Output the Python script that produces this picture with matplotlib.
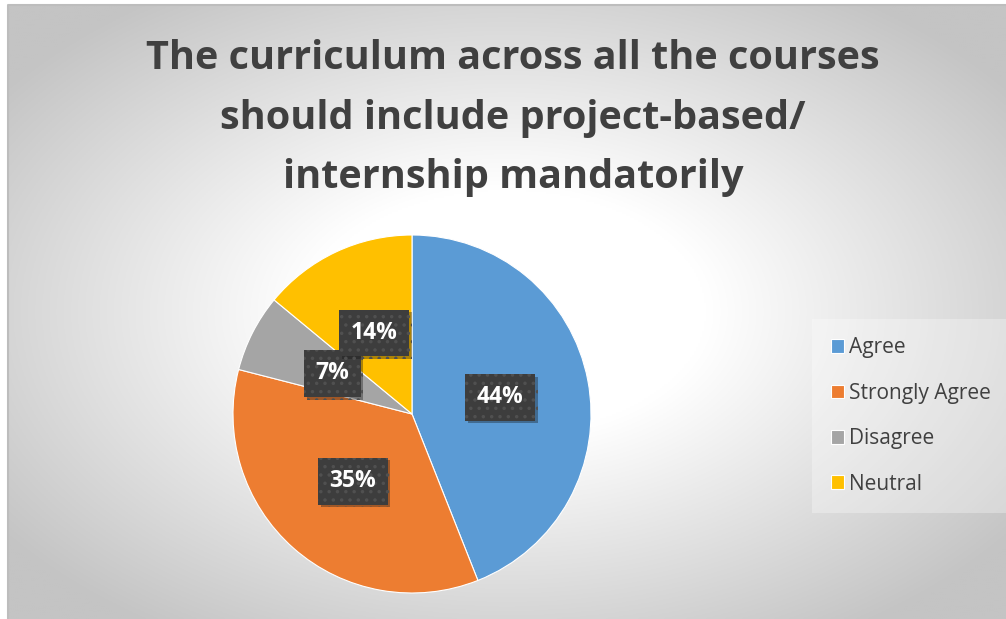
import matplotlib.pyplot as plt
import matplotlib.patheffects as pe
import numpy as np

categories = ["Agree", "Strongly Agree", "Disagree", "Neutral"]
shares = [44, 35, 7, 14]
colors = ["#5B9BD5", "#ED7D31", "#A5A5A5", "#FFC000"]
title = "The curriculum across all the courses\nshould include project-based/\ninternship mandatorily"

W, H = 1006, 619
plt.rcParams["hatch.linewidth"] = 1.3
fig = plt.figure(figsize=(W / 100, H / 100), dpi=100)
fig.patch.set_facecolor("white")

# chart area with a radial grey-to-white gradient
bg = fig.add_axes([8 / W, 0, 1 - 8 / W, 1 - 5 / H])
bg.set_axis_off()
nx, ny = 500, 310
xx, yy = np.meshgrid(np.linspace(0, 1, nx), np.linspace(0, 1, ny))
d = np.hypot((xx - 0.5) / 0.5, (yy - 0.5) / 0.5)
t = np.clip((d - 0.4) / 0.85, 0, 1)
level = 1 - t * (1 - 0xC4 / 255)
bg.imshow(np.dstack([level] * 3), extent=[0, 1, 0, 1], aspect="auto", origin="upper")
bg.plot([0, 0, 1], [0, 1, 1], color="#bdbdbd", lw=1.5, transform=bg.transAxes, clip_on=False)
bg.set_xlim(0, 1)
bg.set_ylim(0, 1)

fig.text(513 / W, 1 - 118 / H, title, ha="center", va="center",
         fontsize=28.5, fontweight="bold", color="#404040",
         family="Open Sans", linespacing=1.67)

# pie
R = 179
cx, cy = 412, 414
ax = fig.add_axes([(cx - R) / W, (H - cy - R) / H, 2 * R / W, 2 * R / H])
wedges, texts, autotexts = ax.pie(
    shares, colors=colors, startangle=90, counterclock=False,
    autopct="%d%%", pctdistance=0.5, radius=1,
    wedgeprops=dict(edgecolor="white", linewidth=0.8),
    textprops=dict(color="white", fontsize=16.5, fontweight="bold", family="Open Sans"),
)
ax.set_xlim(-1, 1)
ax.set_ylim(-1, 1)
ax.set_aspect("equal")

for at in autotexts:
    at.set_bbox(dict(boxstyle="square,pad=0.5", facecolor="#3d3d3d",
                     edgecolor="#505050", linewidth=0, hatch=".."))
    at.get_bbox_patch().set_path_effects(
        [pe.SimplePatchShadow(offset=(2, -2), alpha=0.35), pe.Normal()])

leg = fig.legend(wedges, categories, loc="center left",
                 bbox_to_anchor=(818 / W, 1 - 416 / H),
                 frameon=True, handlelength=0.65, handleheight=0.65,
                 handletextpad=0.25, labelspacing=1.17, borderpad=0.6,
                 borderaxespad=0, prop=dict(family="Open Sans", size=15))
for txt in leg.get_texts():
    txt.set_color("#404040")
frame = leg.get_frame()
frame.set_facecolor("white")
frame.set_alpha(0.3)
frame.set_edgecolor("none")
frame.set_boxstyle("square")

fig.savefig("out.png", dpi=100)
